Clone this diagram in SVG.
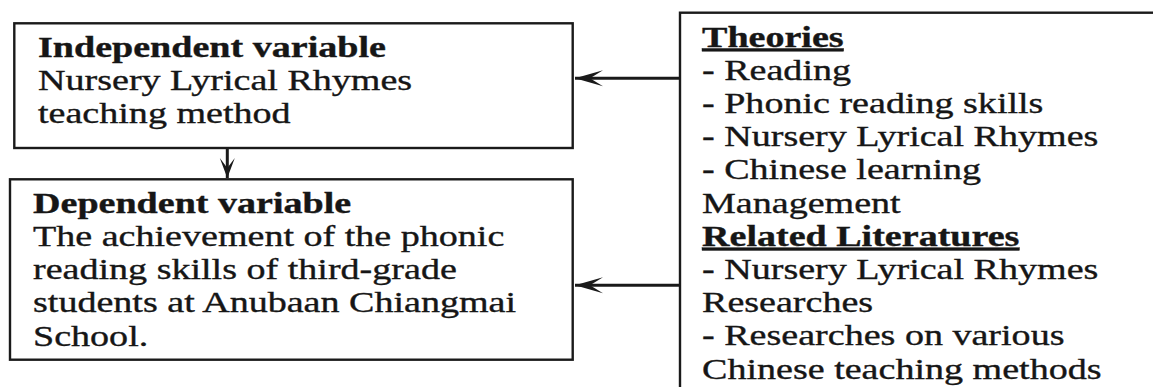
<svg xmlns="http://www.w3.org/2000/svg" width="1153" height="387" viewBox="0 0 1153 387">
  <style>
    .box { fill: #ffffff; stroke: #1a1a1a; stroke-width: 2.4; }
    .t { font-family: "Liberation Serif", "Times New Roman", serif; font-size: 29px; fill: #161616; stroke: #161616; stroke-width: 0.35; }
    .b { font-weight: bold; }
    .u { text-decoration: underline; }
    .conn { stroke: #1a1a1a; stroke-width: 3; fill: none; }
  </style>
  <defs>
    <marker id="arrow" markerUnits="userSpaceOnUse" markerWidth="32" markerHeight="20" viewBox="-30 -10 32 20" refX="0" refY="0" orient="auto">
      <path d="M0,0 L-28,-8 L-15,0 L-28,8 Z" fill="#1a1a1a"/>
    </marker>
    <marker id="arrowS" markerUnits="userSpaceOnUse" markerWidth="24" markerHeight="20" viewBox="-22 -10 24 20" refX="0" refY="0" orient="auto">
      <path d="M0,0 L-20,-7.5 L-10,0 L-20,7.5 Z" fill="#1a1a1a"/>
    </marker>
  </defs>
  <rect width="1153" height="387" fill="#ffffff"/>

  <g id="independent">
    <rect class="box" x="14.3" y="23.3" width="558.4" height="124.7"/>
    <g transform="translate(38,0) scale(1.313,1)">
      <text class="t b" x="0" y="57">Independent variable</text>
      <text class="t" x="0" y="90">Nursery Lyrical Rhymes</text>
      <text class="t" x="0" y="123">teaching method</text>
    </g>
  </g>

  <g id="dependent">
    <rect class="box" x="10" y="179.3" width="562.7" height="180.4"/>
    <g transform="translate(33,0) scale(1.313,1)">
      <text class="t b" x="0" y="213">Dependent variable</text>
      <text class="t" x="0" y="246">The achievement of the phonic</text>
      <text class="t" x="0" y="279.5">reading skills of third-grade</text>
      <text class="t" x="0" y="312.5">students at Anubaan Chiangmai</text>
      <text class="t" x="0" y="346">School.</text>
    </g>
  </g>

  <g id="theories">
    <rect class="box" x="680" y="12.7" width="520" height="420"/>
    <g transform="translate(702,0) scale(1.313,1)">
      <text class="t b u" x="0" y="46.7">Theories</text>
      <text class="t" x="0" y="79.9">- Reading</text>
      <text class="t" x="0" y="113.1">- Phonic reading skills</text>
      <text class="t" x="0" y="146.3">- Nursery Lyrical Rhymes</text>
      <text class="t" x="0" y="179.5">- Chinese learning</text>
      <text class="t" x="0" y="212.7">Management</text>
      <text class="t b u" x="0" y="245.9">Related Literatures</text>
      <text class="t" x="0" y="279.1">- Nursery Lyrical Rhymes</text>
      <text class="t" x="0" y="312.3">Researches</text>
      <text class="t" x="0" y="345.5">- Researches on various</text>
      <text class="t" x="0" y="378.7">Chinese teaching methods</text>
    </g>
  </g>

  <g id="connectors">
    <line class="conn" x1="227.3" y1="148" x2="227.3" y2="178" marker-end="url(#arrowS)"/>
    <line class="conn" x1="680" y1="78.3" x2="575" y2="78.3" marker-end="url(#arrow)"/>
    <line class="conn" x1="680" y1="285.3" x2="575" y2="285.3" marker-end="url(#arrow)"/>
  </g>
</svg>
